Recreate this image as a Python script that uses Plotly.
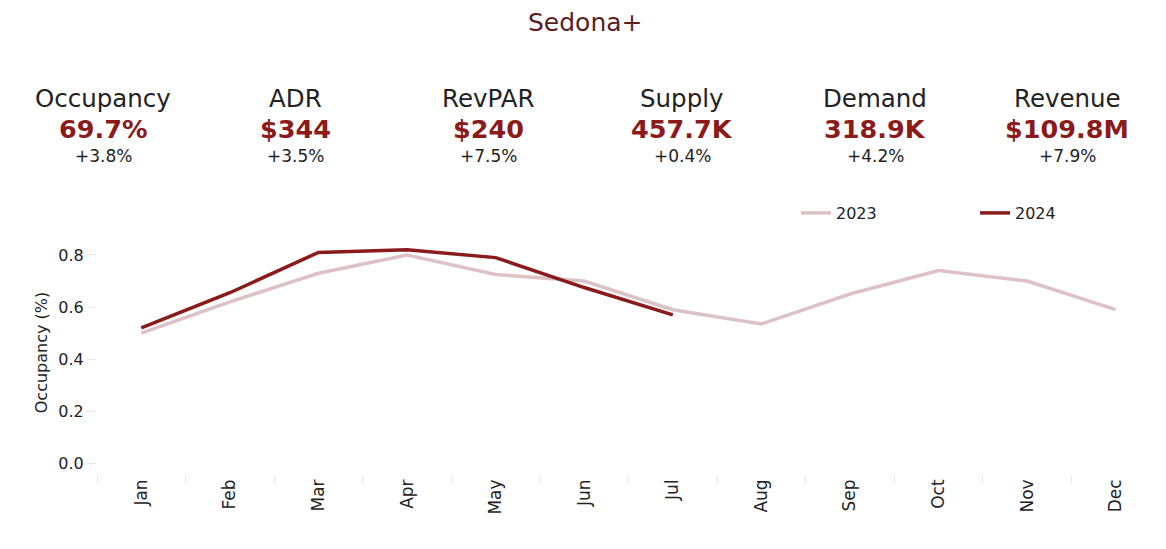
import plotly.graph_objects as go

months = ["Jan", "Feb", "Mar", "Apr", "May", "Jun", "Jul", "Aug", "Sep", "Oct", "Nov", "Dec"]
occ_2023 = [0.50, 0.62, 0.73, 0.80, 0.725, 0.70, 0.59, 0.535, 0.65, 0.74, 0.70, 0.59]
occ_2024 = [0.52, 0.655, 0.81, 0.82, 0.79, 0.675, 0.57]

kpi_labels = ["Occupancy", "ADR", "RevPAR", "Supply", "Demand", "Revenue"]
kpi_values = ["69.7%", "$344", "$240", "457.7K", "318.9K", "$109.8M"]
kpi_changes = ["+3.8%", "+3.5%", "+7.5%", "+0.4%", "+4.2%", "+7.9%"]
kpi_centers_px = [103, 295, 488, 682, 875, 1067]

title_text = "Sedona+"

# page has an 8px body margin; work in page pixel coordinates
OFF = 8
W, H = 1166 - OFF, 549 - OFF
PL, PR, PT, PB = 97, 1160, 230, 475  # plot area in page pixels
ML, MR, MT, MB = PL - OFF, W - (PR - OFF), PT - OFF, H - (PB - OFF)
PW, PH = W - ML - MR, H - MT - MB

FONT = "Verdana, DejaVu Sans, sans-serif"
C2023 = "#dcc2c5"
C2024 = "#8b1a1a"


def px_x(x):
    return (x - PL) / PW


def px_y(y):
    return (PB - y) / PH


fig = go.Figure()
fig.add_trace(go.Scatter(x=months, y=occ_2023, mode="lines", name="2023",
                         line=dict(color=C2023, width=3.5)))
fig.add_trace(go.Scatter(x=months[:len(occ_2024)], y=occ_2024, mode="lines", name="2024",
                         line=dict(color=C2024, width=3.5)))

annotations = [dict(text=title_text, x=px_x(585.5), y=px_y(22), xref="paper", yref="paper",
                    xanchor="center", yanchor="middle", showarrow=False,
                    font=dict(family=FONT, size=25, color="#5a1e1e"))]
for lab, val, chg, cx in zip(kpi_labels, kpi_values, kpi_changes, kpi_centers_px):
    annotations.append(dict(text=lab, x=px_x(cx), y=px_y(98), xref="paper", yref="paper",
                            xanchor="center", yanchor="middle", showarrow=False,
                            font=dict(family=FONT, size=24.5, color="#222222")))
    annotations.append(dict(text="<b>" + val + "</b>", x=px_x(cx), y=px_y(129), xref="paper", yref="paper",
                            xanchor="center", yanchor="middle", showarrow=False,
                            font=dict(family=FONT, size=25.5, color=C2024)))
    annotations.append(dict(text=chg, x=px_x(cx), y=px_y(156), xref="paper", yref="paper",
                            xanchor="center", yanchor="middle", showarrow=False,
                            font=dict(family=FONT, size=17, color="#222222")))

fig.update_layout(
    width=W, height=H,
    margin=dict(l=ML, r=MR, t=MT, b=MB, autoexpand=False),
    paper_bgcolor="white", plot_bgcolor="white",
    font=dict(family=FONT, color="#222222"),
    showlegend=True,
    legend=dict(orientation="h", x=px_x(796), y=px_y(213), xanchor="left", yanchor="middle",
                entrywidth=134, entrywidthmode="pixels",
                font=dict(family=FONT, size=16, color="#222222"), bgcolor="rgba(0,0,0,0)"),
    annotations=annotations,
    xaxis=dict(type="category", categoryorder="array", categoryarray=months,
               range=[-0.5, 11.5], tickson="boundaries", ticks="outside", ticklen=7,
               tickcolor="#e6e6e6", tickangle=-90, showgrid=False, showline=False,
               zeroline=False, tickfont=dict(family=FONT, size=17, color="#222222")),
    yaxis=dict(range=[-0.045, 0.896], tickvals=[0, 0.2, 0.4, 0.6, 0.8], tickformat=".1f",
               ticks="outside", ticklen=9, tickcolor="#e6e6e6", showgrid=False,
               showline=False, zeroline=False,
               tickfont=dict(family=FONT, size=16, color="#222222"),
               title=dict(text="Occupancy (%)", standoff=6,
                          font=dict(family=FONT, size=16, color="#222222"))),
)

fig.write_html("out.html")
